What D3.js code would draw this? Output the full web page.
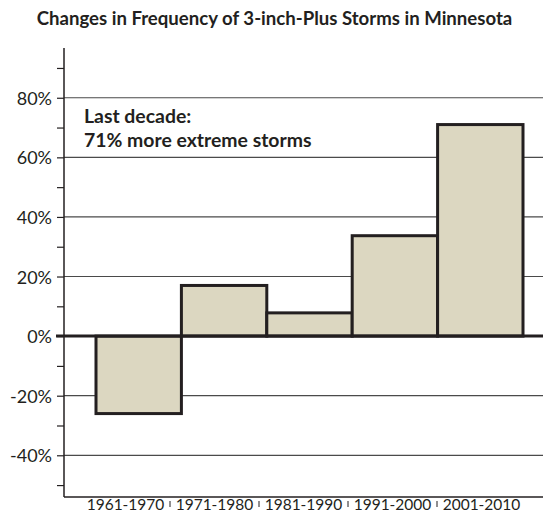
<!DOCTYPE html>
<html>
<head>
<meta charset="utf-8">
<script src="https://cdn.jsdelivr.net/npm/d3@7"></script>
<style>
  html, body { margin: 0; padding: 0; background: #fff; }
  svg { display: block; }
  text { font-family: Lato, "Open Sans", sans-serif; fill: #231f20; }
</style>
</head>
<body>
<svg id="chart" width="543" height="514"></svg>
<script>
// Decades and percent change in 3-inch-plus storm frequency
const decades = ["1961-1970", "1971-1980", "1981-1990", "1991-2000", "2001-2010"];
const changes = [-26, 17, 7.8, 33.7, 71];
const majorTicks = [-40, -20, 0, 20, 40, 60, 80];
const minorTicks = [-50, -30, -10, 10, 30, 50, 70, 90];
const titleText = "Changes in Frequency of 3-inch-Plus Storms in Minnesota";
const noteLines = ["Last decade:", "71% more extreme storms"];

const svg = d3.select("#chart");
const plot = { left: 64, right: 543, top: 48, bottom: 497 };

const y = d3.scaleLinear().domain([-54, 96.7]).range([plot.bottom, plot.top]);
// bars sit in the plot area; category labels use their own band
const xBar = d3.scaleBand().domain(decades).range([96, 523]).padding(0);
const xLab = d3.scaleBand().domain(decades).range([81, 526]).padding(0);

// title
svg.append("text")
  .attr("x", 274.5).attr("y", 25)
  .attr("text-anchor", "middle")
  .style("font-weight", "700").style("font-size", "18.6px")
  .text(titleText);

// gridlines
svg.append("g").selectAll("line").data(majorTicks.filter(d => d !== 0)).join("line")
  .attr("x1", plot.left).attr("x2", plot.right)
  .attr("y1", d => y(d)).attr("y2", d => y(d))
  .attr("stroke", "#4a4a4a").attr("stroke-width", 1.2);

// y axis with major and minor ticks
const yAxis = d3.axisLeft(y).tickValues(majorTicks).tickSize(7).tickPadding(5)
  .tickFormat(d => d + "%");
const gy = svg.append("g").attr("transform", `translate(${plot.left},0)`).call(yAxis);
gy.select(".domain").remove();
gy.selectAll(".tick line").attr("stroke", "#231f20").attr("stroke-width", 1.2);
gy.selectAll(".tick text").style("font-size", "18px").attr("fill", "#231f20")
  .style("font-family", "Lato, sans-serif").attr("dy", "0.36em");
const gMinor = svg.append("g").attr("transform", `translate(${plot.left},0)`)
  .call(d3.axisLeft(y).tickValues(minorTicks).tickSize(7).tickFormat(""));
gMinor.select(".domain").remove();
gMinor.selectAll(".tick line").attr("stroke", "#231f20").attr("stroke-width", 1.2);

// axis lines
svg.append("line").attr("x1", plot.left).attr("x2", plot.left).attr("y1", plot.top).attr("y2", plot.bottom)
  .attr("stroke", "#231f20").attr("stroke-width", 1.5);
svg.append("line").attr("x1", plot.left).attr("x2", plot.right).attr("y1", plot.bottom).attr("y2", plot.bottom)
  .attr("stroke", "#231f20").attr("stroke-width", 1.5);

// bars
svg.append("g").selectAll("rect").data(decades).join("rect")
  .attr("x", d => xBar(d))
  .attr("width", xBar.bandwidth())
  .attr("y", (d, i) => y(Math.max(0, changes[i])))
  .attr("height", (d, i) => Math.abs(y(changes[i]) - y(0)))
  .attr("fill", "#dcd7c1")
  .attr("stroke", "#231f20").attr("stroke-width", 3);

// zero line
svg.append("line").attr("x1", 56).attr("x2", plot.right).attr("y1", y(0)).attr("y2", y(0))
  .attr("stroke", "#231f20").attr("stroke-width", 3);

// category labels and separators
svg.append("g").selectAll("text").data(decades).join("text")
  .attr("x", d => xLab(d) + xLab.bandwidth() / 2)
  .attr("y", 510)
  .attr("text-anchor", "middle")
  .style("font-size", "15.5px")
  .text(d => d);
svg.append("g").selectAll("line").data(decades.slice(1)).join("line")
  .attr("x1", d => xLab(d)).attr("x2", d => xLab(d))
  .attr("y1", 501).attr("y2", 507)
  .attr("stroke", "#231f20").attr("stroke-width", 1);

// annotation
svg.append("g").selectAll("text").data(noteLines).join("text")
  .attr("x", 84).attr("y", (d, i) => 123 + i * 23.5)
  .style("font-weight", "700").style("font-size", "19.4px")
  .text(d => d);
</script>
</body>
</html>
